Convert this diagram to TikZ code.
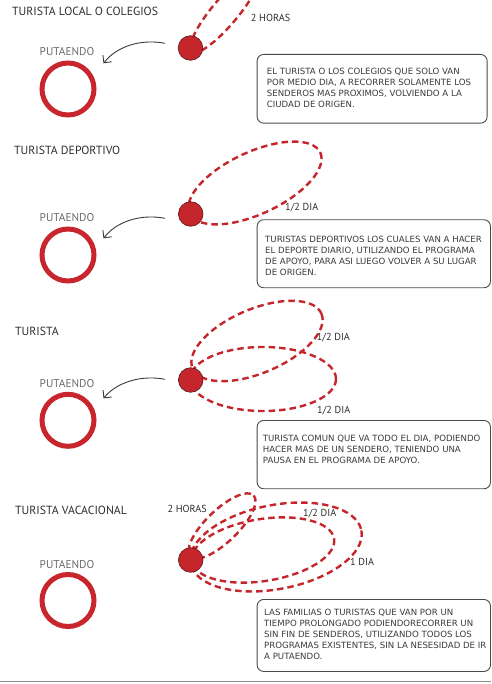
\documentclass[tikz,border=0pt]{standalone}
\usepackage{fontspec}
\setmainfont{PT Sans}
\newfontfamily\boxfont{DejaVu Sans}
\usetikzlibrary{arrows.meta}
\definecolor{redc}{HTML}{C4262B}
\definecolor{ringc}{HTML}{C8252C}
\definecolor{dotline}{HTML}{5A1A1A}
\definecolor{titlec}{HTML}{2E2E2E}
\definecolor{graytxt}{HTML}{6A6A6A}
\definecolor{txt}{HTML}{3A3A3A}
\definecolor{boxc}{HTML}{4A4A4A}
\definecolor{arrc}{HTML}{3A3A3A}
\definecolor{rulec}{HTML}{8A8A8A}
\begin{document}
\begin{tikzpicture}[x=1pt,y=-1pt,
  title/.style={anchor=base west, inner sep=0, font=\fontsize{11.8}{13}\selectfont, text=titlec},
  town/.style={anchor=base, inner sep=0, font=\fontsize{11.3}{13}\selectfont, text=graytxt},
  lbl/.style={anchor=base west, inner sep=0, font=\fontsize{10.2}{12}\selectfont, text=titlec},
  trail/.style={draw=redc, line width=2.4pt, dash pattern=on 6.5pt off 4pt},
  hubdot/.style={circle, fill=redc, draw=dotline, line width=0.6pt, minimum size=24.6pt, inner sep=0},
  townring/.style={circle, draw=ringc, line width=5pt, minimum size=52pt, inner sep=0},
  infobox/.style={draw=boxc, line width=0.9pt, rounded corners=6.5pt, anchor=north west, inner sep=0},
  infotext/.style={anchor=north west, inner sep=0, align=left, font=\boxfont\fontsize{8.6}{11}\selectfont, text=txt},
  goarrow/.style={draw=arrc, line width=0.9pt, -{Straight Barb[length=5.5pt,width=11pt]}}
]
\useasboundingbox (0,0) rectangle (491,684);
\begin{scope}
\clip (0,0) rectangle (491,684);

% ---------- Section 1 ----------
\node[title] (t1) at (12,16) {TURISTA LOCAL O COLEGIOS};
\draw[trail, rotate around={50:(225,12)}] (225,12) ellipse [x radius=52, y radius=13];
\node[hubdot] (d1) at (190.5,48) {};
\node[lbl] (l1) at (250.7,22) {2 HORAS};
\node[town] (p1) at (67,55.5) {PUTAENDO};
\node[townring] (r1) at (68,89) {};
\coordinate (a1s) at (165,43.3);
\coordinate (a1e) at (103.5,63.3);
\draw[goarrow] (a1s) .. controls (140,38.5) and (116,47) .. (a1e);
\node[infobox, minimum width=230pt, minimum height=68.7pt] (b1) at (256.7,54) {};
\node[infotext] (x1) at (266.7,67.6) {EL TURISTA O LOS COLEGIOS QUE SOLO VAN\\POR MEDIO DIA, A RECORRER SOLAMENTE LOS\\SENDEROS MAS PROXIMOS, VOLVIENDO A LA\\CIUDAD DE ORIGEN.};

% ---------- Section 2 ----------
\node[title] (t2) at (14,155) {TURISTA DEPORTIVO};
\draw[trail, rotate around={25:(255,183)}] (255,183) ellipse [x radius=72, y radius=31];
\node[hubdot] (d2) at (190.7,214) {};
\node[lbl] (l2) at (285,211) {1/2 DIA};
\node[town] (p2) at (67,222) {PUTAENDO};
\node[townring] (r2) at (68,255) {};
\coordinate (a2s) at (165,218.3);
\coordinate (a2e) at (103.5,238.3);
\draw[goarrow] (a2s) .. controls (140,213.5) and (116,222) .. (a2e);
\node[infobox, minimum width=233.3pt, minimum height=68pt] (b2) at (256.7,219.3) {};
\node[infotext] (x2) at (265,236.2) {TURISTAS DEPORTIVOS LOS CUALES VAN A HACER\\EL DEPORTE DIARIO, UTILIZANDO EL PROGRAMA\\DE APOYO, PARA ASI LUEGO VOLVER A SU LUGAR\\DE ORIGEN.};

% ---------- Section 3 ----------
\node[title] (t3) at (15,335.5) {TURISTA};
\draw[trail, rotate around={23:(257,341)}] (257,341) ellipse [x radius=70, y radius=32];
\draw[trail] (263,379) ellipse [x radius=73, y radius=32];
\node[hubdot] (d3) at (190.7,380) {};
\node[lbl] (l3a) at (316.7,340) {1/2 DIA};
\node[lbl] (l3b) at (317,413) {1/2 DIA};
\node[town] (p3) at (67,387) {PUTAENDO};
\node[townring] (r3) at (68,420.3) {};
\coordinate (a3s) at (165,379.3);
\coordinate (a3e) at (103.5,398.3);
\draw[goarrow] (a3s) .. controls (140,374.5) and (116,383) .. (a3e);
\node[infobox, minimum width=233.3pt, minimum height=68.3pt] (b3) at (256.7,420) {};
\node[infotext] (x3) at (262.7,435.2) {TURISTA COMUN QUE VA TODO EL DIA, PODIENDO\\HACER MAS DE UN SENDERO, TENIENDO UNA\\PAUSA EN EL PROGRAMA DE APOYO.};

% ---------- Section 4 ----------
\node[title] (t4) at (15,514) {TURISTA VACACIONAL};
\draw[trail, rotate around={44:(222,526)}] (222,526) ellipse [x radius=44, y radius=16];
\draw[trail, rotate around={9:(263,550)}] (263,550) ellipse [x radius=72, y radius=31];
\draw[trail, rotate around={11:(276,547)}] (276,547) ellipse [x radius=87, y radius=42];
\node[hubdot] (d4) at (190.7,560) {};
\node[lbl, anchor=base east] (l4a) at (207,512) {2 HORAS};
\node[lbl] (l4b) at (303,516) {1/2 DIA};
\node[lbl] (l4c) at (350,565) {1 DIA};
\node[town] (p4) at (67,568) {PUTAENDO};
\node[townring] (r4) at (68,600.5) {};
\node[infobox, minimum width=233.3pt, minimum height=72pt] (b4) at (256.7,599) {};
\node[infotext] (x4) at (264,608.5) {LAS FAMILIAS O TURISTAS QUE VAN POR UN\\TIEMPO PROLONGADO PODIENDORECORRER UN\\SIN FIN DE SENDEROS, UTILIZANDO TODOS LOS\\PROGRAMAS EXISTENTES, SIN LA NESESIDAD DE IR\\A PUTAENDO.};

\draw[draw=rulec, line width=1.2pt] (0,681.5) -- (491,681.5);
\end{scope}
\end{tikzpicture}
\end{document}
